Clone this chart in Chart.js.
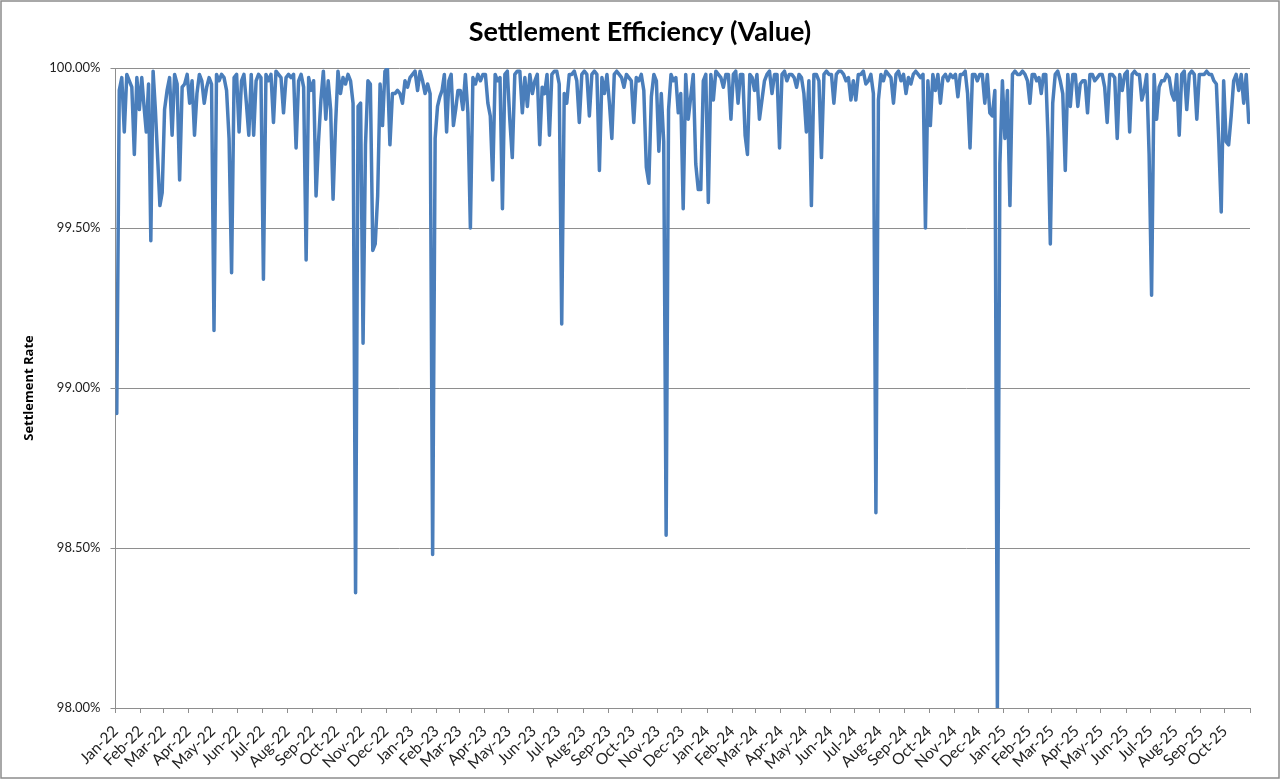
<!DOCTYPE html>
<html>
<head>
<meta charset="utf-8">
<title>Settlement Efficiency (Value)</title>
<script src="https://cdn.jsdelivr.net/npm/chart.js@4.4.1/dist/chart.umd.min.js"></script>
<style>
  html, body { margin: 0; padding: 0; background: #fff; }
  #wrap { position: relative; width: 1280px; height: 779px; }
</style>
</head>
<body>
<div id="wrap"><canvas id="effChart"></canvas></div>
<script>
// axis months: Jan-22 .. Oct-25, the axis itself runs to 1 Nov 2025
const monthNames = ['Jan', 'Feb', 'Mar', 'Apr', 'May', 'Jun', 'Jul', 'Aug', 'Sep', 'Oct', 'Nov', 'Dec'];
const years = [2022, 2023, 2024, 2025];
const monthsIn2025 = 10;

// settlement rate (%), 10 readings per month, one line per month
const rates2022 = [
  98.92, 99.93, 99.97, 99.80, 99.98, 99.96, 99.94, 99.73, 99.97, 99.87,
  99.97, 99.88, 99.80, 99.95, 99.46, 99.99, 99.87, 99.72, 99.57, 99.61,
  99.87, 99.93, 99.97, 99.79, 99.98, 99.95, 99.65, 99.94, 99.95, 99.98,
  99.89, 99.96, 99.79, 99.92, 99.98, 99.96, 99.89, 99.94, 99.97, 99.95,
  99.18, 99.98, 99.96, 99.98, 99.97, 99.93, 99.78, 99.36, 99.97, 99.98,
  99.80, 99.96, 99.98, 99.89, 99.79, 99.98, 99.79, 99.96, 99.98, 99.97,
  99.34, 99.98, 99.96, 99.98, 99.83, 99.99, 99.98, 99.97, 99.86, 99.97,
  99.98, 99.97, 99.98, 99.75, 99.96, 99.98, 99.94, 99.40, 99.97, 99.93,
  99.96, 99.60, 99.77, 99.90, 99.99, 99.84, 99.96, 99.87, 99.59, 99.82,
  99.99, 99.92, 99.97, 99.95, 99.98, 99.96, 99.89, 98.36, 99.88, 99.89,
  99.14, 99.76, 99.96, 99.95, 99.43, 99.45, 99.60, 99.95, 99.82, 99.99,
  100.00, 99.76, 99.92, 99.92, 99.93, 99.92, 99.89, 99.96, 99.94, 99.97
];
const rates2023 = [
  99.98, 99.99, 99.93, 99.99, 99.96, 99.92, 99.95, 99.92, 98.48, 99.78,
  99.88, 99.91, 99.93, 99.98, 99.80, 99.96, 99.98, 99.82, 99.87, 99.93,
  99.93, 99.87, 99.98, 99.86, 99.50, 99.97, 99.95, 99.98, 99.96, 99.98,
  99.98, 99.89, 99.85, 99.65, 99.98, 99.96, 99.97, 99.56, 99.98, 99.99,
  99.84, 99.72, 99.98, 99.99, 99.99, 99.86, 99.97, 99.88, 99.98, 99.92,
  99.96, 99.98, 99.76, 99.94, 99.92, 99.98, 99.79, 99.98, 99.99, 99.99,
  99.95, 99.20, 99.92, 99.89, 99.98, 99.98, 99.99, 99.96, 99.83, 99.98,
  99.99, 99.98, 99.85, 99.98, 99.99, 99.98, 99.68, 99.97, 99.92, 99.98,
  99.89, 99.78, 99.98, 99.99, 99.98, 99.97, 99.94, 99.98, 99.97, 99.96,
  99.83, 99.97, 99.96, 99.98, 99.93, 99.69, 99.64, 99.91, 99.98, 99.96,
  99.74, 99.92, 99.77, 98.54, 99.87, 99.98, 99.96, 99.97, 99.86, 99.92,
  99.56, 99.98, 99.84, 99.91, 99.98, 99.70, 99.62, 99.62, 99.96, 99.98
];
const rates2024 = [
  99.58, 99.98, 99.90, 99.99, 99.98, 99.97, 99.94, 99.98, 99.98, 99.84,
  99.98, 99.99, 99.89, 99.98, 99.98, 99.79, 99.73, 99.98, 99.97, 99.93,
  99.98, 99.84, 99.90, 99.96, 99.98, 99.99, 99.92, 99.98, 99.98, 99.75,
  99.98, 99.99, 99.96, 99.98, 99.98, 99.97, 99.94, 99.98, 99.97, 99.92,
  99.80, 99.96, 99.57, 99.98, 99.98, 99.96, 99.72, 99.98, 99.99, 99.98,
  99.98, 99.89, 99.98, 99.99, 99.99, 99.98, 99.96, 99.97, 99.90, 99.96,
  99.90, 99.98, 99.98, 99.99, 99.95, 99.96, 99.98, 99.92, 98.61, 99.90,
  99.98, 99.96, 99.99, 99.98, 99.97, 99.89, 99.98, 99.99, 99.96, 99.98,
  99.92, 99.97, 99.95, 99.98, 99.99, 99.98, 99.97, 99.98, 99.50, 99.96,
  99.82, 99.98, 99.93, 99.98, 99.89, 99.97, 99.98, 99.96, 99.98, 99.97,
  99.98, 99.91, 99.98, 99.98, 99.99, 99.92, 99.75, 99.98, 99.98, 99.96,
  99.98, 99.98, 99.89, 99.98, 99.86, 99.85, 99.93, 98.00, 99.70, 99.96
];
const rates2025 = [
  99.78, 99.93, 99.57, 99.98, 99.99, 99.98, 99.98, 99.99, 99.98, 99.96,
  99.89, 99.98, 99.98, 99.96, 99.97, 99.92, 99.98, 99.98, 99.78, 99.45,
  99.89, 99.98, 99.99, 99.96, 99.92, 99.68, 99.98, 99.88, 99.98, 99.98,
  99.88, 99.95, 99.96, 99.96, 99.86, 99.98, 99.98, 99.96, 99.97, 99.98,
  99.98, 99.94, 99.83, 99.98, 99.98, 99.97, 99.78, 99.98, 99.93, 99.98,
  99.99, 99.80, 99.98, 99.99, 99.98, 99.98, 99.90, 99.93, 99.98, 99.73,
  99.29, 99.98, 99.84, 99.94, 99.96, 99.96, 99.98, 99.97, 99.92, 99.90,
  99.98, 99.79, 99.98, 99.99, 99.87, 99.98, 99.99, 99.98, 99.84, 99.98,
  99.98, 99.98, 99.99, 99.98, 99.98, 99.96, 99.95, 99.77, 99.55, 99.96,
  99.77, 99.76, 99.85, 99.96, 99.98, 99.93, 99.98, 99.89, 99.98, 99.83
];
const readingsPerMonth = 10;

// month starts as day numbers since 1 Jan 2022, plus the closing 1 Nov 2025
const dayMs = 86400000;
const origin = Date.UTC(2022, 0, 1);
const monthStarts = [];
const monthLabels = [];
years.forEach(y => {
  const count = y === 2025 ? monthsIn2025 : 12;
  for (let m = 0; m < count; m++) {
    monthStarts.push((Date.UTC(y, m, 1) - origin) / dayMs);
    monthLabels.push(monthNames[m] + '-' + String(y).slice(2));
  }
});
monthStarts.push((Date.UTC(2025, monthsIn2025, 1) - origin) / dayMs);

const allRates = [...rates2022, ...rates2023, ...rates2024, ...rates2025];
const points = allRates.map((v, k) => {
  const m = Math.floor(k / readingsPerMonth);
  const i = k % readingsPerMonth;
  const len = monthStarts[m + 1] - monthStarts[m];
  return { x: monthStarts[m] + (i + 0.5) * len / readingsPerMonth, y: v };
});

// thin grey frame round the whole chart, like the Excel chart area
const chartFrame = {
  id: 'chartFrame',
  afterDraw(chart) {
    const c = chart.ctx;
    c.save();
    c.strokeStyle = '#8c8c8c';
    c.lineWidth = 1.5;
    c.strokeRect(1, 1, chart.width - 2, chart.height - 2);
    c.restore();
  }
};

const gridGrey = '#8e8e8e';
const labelFont = { family: 'Lato, "Open Sans", sans-serif', size: 13 };

new Chart(document.getElementById('effChart'), {
  type: 'line',
  data: {
    datasets: [{
      label: 'Settlement Rate',
      data: points,
      borderColor: '#4a7ebb',
      borderWidth: 3.5,
      borderJoinStyle: 'round',
      borderCapStyle: 'round',
      pointRadius: 0,
      tension: 0,
      fill: false
    }]
  },
  options: {
    responsive: true,
    maintainAspectRatio: false,
    animation: false,
    layout: { padding: 0 },
    plugins: {
      legend: { display: false },
      tooltip: { enabled: false },
      title: {
        display: true,
        text: 'Settlement Efficiency (Value)',
        color: '#000',
        font: { family: 'Lato, "Open Sans", sans-serif', size: 27, weight: 'bold' },
        padding: { top: 16, bottom: 19.6 }
      }
    },
    scales: {
      x: {
        type: 'linear',
        min: 0,
        max: monthStarts[monthStarts.length - 1],
        afterBuildTicks: scale => {
          scale.ticks = monthStarts.map(v => ({ value: v }));
        },
        afterFit: scale => { scale.height = 71; },
        grid: { drawOnChartArea: false, drawTicks: true, tickLength: 5, color: gridGrey },
        border: { color: gridGrey },
        ticks: {
          autoSkip: false,
          maxRotation: 45,
          minRotation: 45,
          padding: 9,
          color: '#222',
          font: { family: 'Lato, "Open Sans", sans-serif', size: 15.5 },
          callback: (v, i) => monthLabels[i] || ''
        }
      },
      y: {
        min: 98,
        max: 100,
        afterFit: scale => { scale.width = 115.5; },
        grid: { color: gridGrey, tickLength: 5 },
        border: { color: gridGrey },
        ticks: {
          stepSize: 0.5,
          padding: 10,
          color: '#222',
          font: labelFont,
          callback: v => v.toFixed(2) + '%'
        },
        title: {
          display: true,
          text: 'Settlement Rate',
          color: '#000',
          font: { family: '"Open Sans", Lato, sans-serif', size: 13, weight: 'bold' },
          padding: { top: 21, bottom: 0 }
        }
      },
      // empty right-hand strip so the plot stops where the reference does
      // while the title stays centred on the whole canvas
      gap: {
        position: 'right',
        min: 98,
        max: 100,
        afterFit: scale => { scale.width = 30; },
        grid: { drawOnChartArea: false, drawTicks: false },
        border: { display: false },
        ticks: { display: false }
      }
    }
  },
  plugins: [chartFrame]
});
</script>
</body>
</html>
